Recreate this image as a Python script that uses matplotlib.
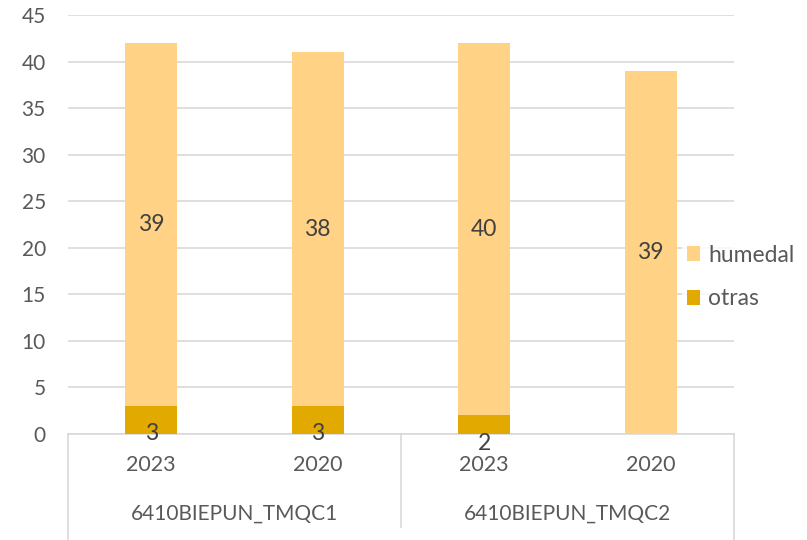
import matplotlib
matplotlib.use('Agg')
import matplotlib.pyplot as plt
import numpy as np

plt.rcParams['font.family'] = ['Lato', 'DejaVu Sans']

# ── Data ──────────────────────────────────────────────────────────────
years = ['2023', '2020', '2023', '2020']
groups = ['6410BIEPUN_TMQC1', '6410BIEPUN_TMQC2']
otras = [3, 3, 2, 0]
humedal = [39, 38, 40, 39]

C_HUM = '#FFD285'
C_OTR = '#E2AA00'
C_TXT = '#595959'
C_LAB = '#404040'
C_LINE = '#D9D9D9'

FS_AX = 15
FS_LAB = 16.5

fig = plt.figure(figsize=(8.07, 5.40), dpi=100)
ax = fig.add_axes([68 / 807, 1 - 434 / 540, 666 / 807, 419 / 540])

x = np.arange(len(years))
w = 0.31
ax.bar(x, otras, width=w, color=C_OTR, label='otras', zorder=3)
ax.bar(x, humedal, width=w, bottom=otras, color=C_HUM, label='humedal', zorder=3)

# data labels
for xi, o, h in zip(x, otras, humedal):
    ax.text(xi, o + h / 2, str(h), ha='center', va='center',
            fontsize=FS_LAB, color=C_LAB, zorder=5)
    if o > 0:
        ax.text(xi, o - 3, str(o), ha='center', va='center',
                fontsize=FS_LAB, color=C_LAB, zorder=5, clip_on=False)

ax.set_xlim(-0.5, 3.5)
ax.set_ylim(0, 45)
ax.set_yticks(np.arange(0, 46, 5))
ax.yaxis.grid(True, color=C_LINE, linewidth=1.2, zorder=0)
ax.set_axisbelow(True)
ax.tick_params(axis='y', length=0, pad=16, labelsize=FS_AX, labelcolor=C_TXT)
ax.set_xticks([])
for s in ['top', 'right', 'left']:
    ax.spines[s].set_visible(False)
ax.spines['bottom'].set_color(C_LINE)
ax.spines['bottom'].set_linewidth(1.2)

# two-level category axis
tr = ax.get_xaxis_transform()
for xi, yr in zip(x, years):
    ax.text(xi, -0.074, yr, transform=tr, ha='center', va='center',
            fontsize=FS_AX + 0.5, color=C_TXT, clip_on=False)
for gi, g in enumerate(groups):
    ax.text(gi * 2 + 0.5, -0.191, g, transform=tr, ha='center', va='center',
            fontsize=FS_AX, color=C_TXT, clip_on=False)
for xv, ybot in [(-0.5, -0.26), (1.5, -0.222), (3.5, -0.26)]:
    ax.plot([xv, xv], [0, ybot], transform=tr, color=C_LINE,
            linewidth=1.2, clip_on=False)

h_o, h_h = ax.get_legend_handles_labels()[0]
leg = fig.legend([h_h, h_o], ['humedal', 'otras'], loc='center left',
                 bbox_to_anchor=(682 / 807, 1 - 277 / 540), frameon=True,
                 fontsize=FS_LAB, labelcolor=C_TXT, handlelength=0.6,
                 handleheight=0.6, handletextpad=0.35, labelspacing=1.0,
                 borderpad=0.2, borderaxespad=0)
leg.get_frame().set_edgecolor('none')
leg.get_frame().set_facecolor('white')

fig.savefig('out.png', dpi=100)
